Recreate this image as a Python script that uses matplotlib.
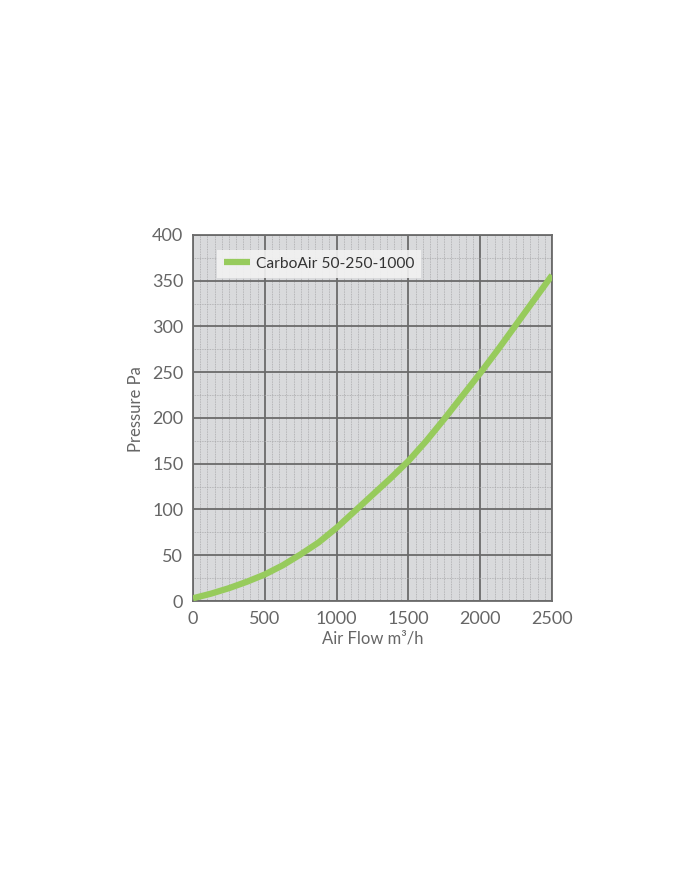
import matplotlib
matplotlib.use('Agg')
import matplotlib.pyplot as plt
from matplotlib.ticker import MultipleLocator

# pressure curve
air_flow = [0, 125, 250, 375, 500, 625, 750, 875, 1000, 1125, 1250,
            1375, 1500, 1625, 1750, 1875, 2000, 2125, 2250, 2375, 2500]
pressure = [3, 8, 14, 21, 29, 39, 51, 64, 80, 98, 116,
            134, 153, 175, 199, 224, 249, 275, 302, 329, 356]
series_name = 'CarboAir 50-250-1000'

plt.rcParams['font.family'] = ['Lato', 'DejaVu Sans']

fig = plt.figure(figsize=(7, 8.69), dpi=100)
ax = fig.add_axes([0.2757, 0.3084, 0.5129, 0.4212])
ax.set_facecolor('#d9dadc')

ax.plot(air_flow, pressure, color='#97cb5c', lw=4.5, solid_capstyle='butt',
        solid_joinstyle='round', label=series_name, zorder=3)

ax.set_xlim(0, 2500)
ax.set_ylim(0, 400)
ax.xaxis.set_major_locator(MultipleLocator(500))
ax.yaxis.set_major_locator(MultipleLocator(50))
ax.xaxis.set_minor_locator(MultipleLocator(50))
ax.yaxis.set_minor_locator(MultipleLocator(25))

ax.grid(which='major', color='#6b6b6b', lw=1.3)
ax.grid(which='minor', color='#a9a9ab', lw=0.6, ls=(0, (1, 1)))
ax.set_axisbelow(True)

for s in ax.spines.values():
    s.set_color('#6b6b6b')
    s.set_linewidth(1.3)

ax.tick_params(which='both', length=0, labelsize=13, labelcolor='#666666')
ax.tick_params(axis='x', pad=7)
ax.tick_params(axis='y', pad=7)
ax.set_xlabel('Air Flow m³/h', fontsize=12, color='#666666', labelpad=3)
ax.set_ylabel('Pressure Pa', fontsize=12, color='#666666')
ax.yaxis.set_label_coords(-0.137, 0.525)

leg = ax.legend(loc='upper left', bbox_to_anchor=(0.067, 0.96), fontsize=11.2,
                frameon=True, fancybox=False, handlelength=1.7,
                borderpad=0.45, borderaxespad=0, handletextpad=0.35)
leg.get_frame().set_facecolor('#f2f2f2')
leg.get_frame().set_edgecolor('none')
leg.get_frame().set_alpha(0.9)
for t in leg.get_texts():
    t.set_color('#333333')

fig.savefig('out.png', dpi=100, facecolor='white')
